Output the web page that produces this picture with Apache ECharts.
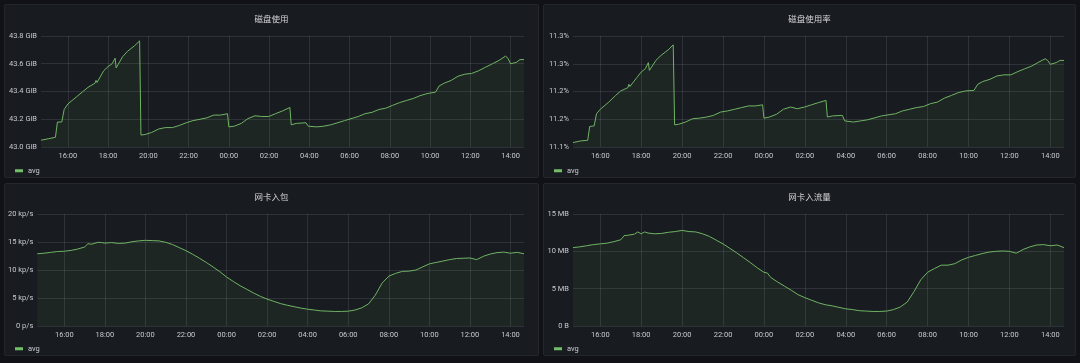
<!DOCTYPE html>
<html><head><meta charset="utf-8">
<script src="https://cdn.jsdelivr.net/npm/echarts@6/dist/echarts.min.js"></script>
<style>
html,body{margin:0;padding:0;background:#111217;width:1080px;height:363px;overflow:hidden}
.panel{position:absolute;background:#181b1f;border:1px solid #23262c;border-radius:2px;box-sizing:border-box}
</style></head><body>
<div class="panel" id="p1" style="left:4px;top:4px;width:535px;height:174px"></div>
<div class="panel" id="p2" style="left:543px;top:4px;width:533px;height:174px"></div>
<div class="panel" id="p3" style="left:4px;top:183px;width:535px;height:173px"></div>
<div class="panel" id="p4" style="left:543px;top:183px;width:533px;height:173px"></div>
<script>
// ---- data ----
const xTickLabels = ["16:00","18:00","20:00","22:00","00:00","02:00","04:00","06:00","08:00","10:00","12:00","14:00"];

const diskTimes = ["14:40","15:03","15:23","15:27","15:29","15:42","15:49",
"16:00","16:25","16:45","17:00","17:21","17:24","17:27","17:47",
"18:00","18:12","18:21","18:24","18:43","18:58","19:19","19:34","19:38","19:50",
"20:10","20:31","20:51","21:12","21:32","21:53","22:13","22:34","22:54",
"23:15","23:35","23:56","00:00","00:16","00:37","00:57",
"01:18","01:38","01:59","02:19","02:40","03:02","03:06","03:21","03:50","03:57",
"04:22","04:43","05:04","05:45","06:26","06:46","07:07","07:27","07:48",
"08:08","08:29","08:49","09:10","09:30","09:51","10:16","10:27","10:42",
"11:03","11:23","11:44","12:04","12:25","12:45","13:06","13:26","13:45","13:52",
"14:00","14:17","14:28","14:40"];

const diskUsed = [43.049,43.06,43.07,43.07,43.18,43.18,43.27,
43.31,43.36,43.40,43.43,43.46,43.48,43.465,43.55,
43.58,43.60,43.64,43.57,43.65,43.69,43.73,43.765,43.086,43.09,
43.105,43.13,43.14,43.14,43.155,43.175,43.19,43.20,43.21,
43.23,43.23,43.24,43.145,43.15,43.17,43.205,
43.225,43.22,43.22,43.24,43.26,43.285,43.16,43.17,43.175,43.15,
43.145,43.15,43.16,43.19,43.22,43.24,43.25,43.27,43.28,
43.30,43.32,43.335,43.35,43.37,43.385,43.395,43.44,43.46,
43.48,43.51,43.525,43.53,43.55,43.575,43.60,43.625,43.655,43.64,
43.60,43.61,43.63,43.63];

const diskPct = [11.108,11.111,11.112,11.113,11.137,11.138,11.160,
11.168,11.181,11.193,11.201,11.207,11.213,11.209,11.225,
11.235,11.241,11.252,11.238,11.256,11.265,11.275,11.284,11.140,11.141,
11.145,11.151,11.152,11.154,11.157,11.163,11.165,11.168,11.171,
11.174,11.174,11.176,11.152,11.154,11.159,11.168,
11.172,11.169,11.172,11.176,11.180,11.184,11.154,11.156,11.157,11.147,
11.145,11.147,11.149,11.156,11.160,11.165,11.168,11.171,11.173,
11.178,11.181,11.188,11.193,11.198,11.201,11.202,11.213,11.218,
11.222,11.228,11.230,11.230,11.236,11.241,11.246,11.253,11.259,11.256,
11.249,11.252,11.256,11.256];

const netTimes = ["14:40","15:00","15:20","15:40","16:00","16:20","16:40","17:00",
"17:10","17:20","17:40","17:50","18:00","18:10","18:20","18:40",
"19:00","19:20","19:40","20:00","20:20","20:40","21:00","21:20","21:40",
"22:00","22:20","22:40","23:00","23:20","23:40","00:00","00:10","00:20","00:40",
"01:00","01:20","01:40","02:00","02:20","02:40","03:00","03:20","03:40",
"04:00","04:20","04:40","05:00","05:20","05:40","06:00","06:20","06:40",
"07:00","07:20","07:40","08:00","08:20","08:40","09:00","09:20","09:40",
"10:00","10:20","10:40","11:00","11:20","11:40","12:00","12:20","12:40",
"13:00","13:20","13:40","14:00","14:20","14:40"];

const netPackets = [12.9,13.0,13.15,13.3,13.35,13.5,13.75,14.1,
14.7,14.6,14.95,14.9,14.8,14.85,14.9,14.75,
14.8,15.05,15.2,15.3,15.25,15.2,14.95,14.55,14.0,
13.45,12.8,12.1,11.35,10.55,9.7,8.75,8.35,7.95,7.2,
6.55,5.9,5.3,4.8,4.4,4.0,3.7,3.45,3.2,
3.0,2.85,2.7,2.65,2.6,2.6,2.65,2.85,3.25,
3.95,5.5,7.65,8.9,9.4,9.75,9.8,10.0,10.55,
11.1,11.35,11.6,11.85,12.05,12.1,12.15,11.85,12.45,
12.85,13.1,13.2,13.0,13.15,12.9];

const netBytes = [10.5,10.6,10.75,10.9,11.0,11.1,11.3,11.55,
12.1,12.15,12.3,12.6,12.35,12.6,12.45,12.35,
12.4,12.55,12.65,12.8,12.65,12.6,12.35,12.0,11.5,
11.0,10.4,9.8,9.15,8.5,7.8,7.2,7.1,6.5,5.9,
5.35,4.8,4.2,3.8,3.45,3.1,2.85,2.7,2.5,
2.3,2.2,2.05,2.0,1.95,1.95,2.0,2.2,2.55,
3.2,4.6,6.2,7.2,7.7,8.15,8.15,8.35,8.85,
9.2,9.45,9.7,9.9,10.0,10.05,10.0,9.75,10.25,
10.6,10.85,10.9,10.75,10.85,10.5];

const yLabels1 = ["43.0 GiB","43.2 GiB","43.4 GiB","43.6 GiB","43.8 GiB"];
const yLabels2 = ["11.1%","11.2%","11.2%","11.3%","11.3%"];
const yLabels3 = ["0 p/s","5 kp/s","10 kp/s","15 kp/s","20 kp/s"];
const yLabels4 = ["0 B","5 MB","10 MB","15 MB"];

// ---- helpers ----
const START = 14*60+40;
function toMinutes(times){
  let day=0, prev=-1;
  return times.map(t=>{
    const p=t.split(':').map(Number);
    let v=p[0]*60+p[1]+day;
    if(v<START+day && day===0 && prev>=0) { day=1440; v+=1440; }
    if(v<prev){ day+=1440; v+=1440; }
    prev=v; return v;
  });
}
function pairs(times, vals){ const m=toMinutes(times); return m.map((x,i)=>[x, vals[i]]); }
const xTickVals = toMinutes(xTickLabels);
const xMin = START, xMax = START+1440;
const FONT = 'Roboto, "Noto Sans CJK SC", sans-serif';
const GRID = 'rgba(204,204,220,0.13)';
const TXT = '#c7cad1';

function makePanel(id, cfg){
  const chart = echarts.init(document.getElementById(id), null, {renderer:'canvas'});
  const yl = cfg.labels;
  chart.setOption({
    animation:false,
    textStyle:{fontFamily:FONT},
    title:{text:cfg.title, left:'center', top:cfg.titleTop,
      textStyle:{color:'#d2d4d8', fontSize:8.5, fontWeight:'normal', fontFamily:'"Noto Sans CJK SC", sans-serif'}},
    legend:{data:['avg'], left:10, top:cfg.legendTop, padding:0, icon:'rect', itemWidth:8, itemHeight:3, itemGap:6,
      textStyle:{color:TXT, fontSize:7.5, fontFamily:FONT}},
    grid:{left:cfg.left, right:cfg.right, top:cfg.top, bottom:cfg.bottom},
    xAxis:{type:'value', min:xMin, max:xMax,
      axisLine:{show:false},
      axisTick:{show:false, customValues:xTickVals},
      axisLabel:{customValues:xTickVals, color:TXT, fontSize:7.5, margin:5, fontFamily:FONT,
        formatter:(v)=>xTickLabels[xTickVals.indexOf(v)] || ''},
      splitLine:{show:true, lineStyle:{color:GRID, width:1}}},
    yAxis:{type:'value', min:cfg.min, max:cfg.max, interval:cfg.interval,
      axisLine:{show:false}, axisTick:{show:false},
      axisLabel:{color:TXT, fontSize:7.5, margin:4, fontFamily:FONT,
        formatter:(v)=>yl[Math.round((v-cfg.min)/cfg.interval)]},
      splitLine:{show:true, lineStyle:{color:GRID, width:1}}},
    series:[{name:'avg', type:'line', data:cfg.data, showSymbol:false, symbol:'none',
      lineStyle:{width:1, color:'#6fb464'}, itemStyle:{color:'#73bf69'},
      areaStyle:{color:'rgba(115,191,105,0.10)'}}]
  });
}

makePanel('p1',{title:'磁盘使用', titleTop:5, legendTop:162, left:36, right:14, top:31, bottom:30,
  min:43.0, max:43.8, interval:0.2, labels:yLabels1, data:pairs(diskTimes, diskUsed)});
makePanel('p2',{title:'磁盘使用率', titleTop:5, legendTop:162, left:29, right:11, top:31, bottom:30,
  min:11.1, max:11.3, interval:0.05, labels:yLabels2, data:pairs(diskTimes, diskPct)});
makePanel('p3',{title:'网卡入包', titleTop:4, legendTop:161, left:32, right:14, top:30, bottom:29,
  min:0, max:20, interval:5, labels:yLabels3, data:pairs(netTimes, netPackets)});
makePanel('p4',{title:'网卡入流量', titleTop:4, legendTop:161, left:29, right:11, top:30, bottom:29,
  min:0, max:15, interval:5, labels:yLabels4, data:pairs(netTimes, netBytes)});
</script>
</body></html>
